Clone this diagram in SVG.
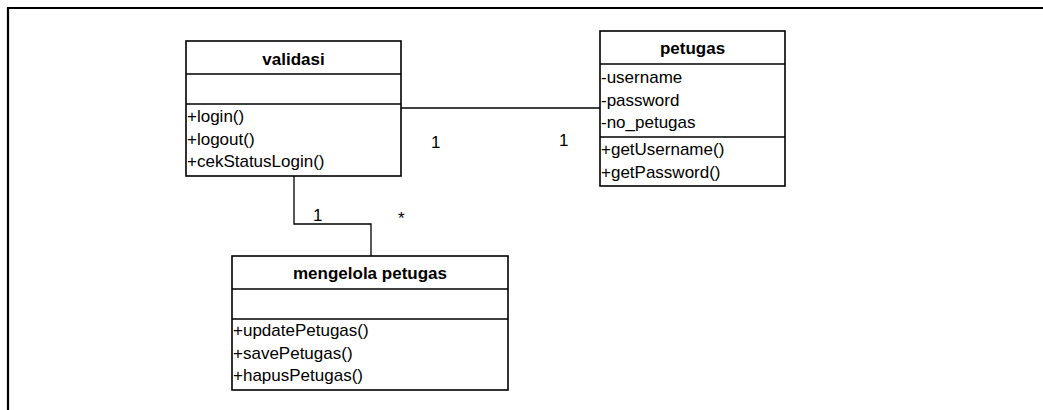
<svg xmlns="http://www.w3.org/2000/svg" width="1043" height="410" viewBox="0 0 1043 410">
<style>
.box{fill:#fff;stroke:#000;stroke-width:1.6}
.sep{stroke:#000;stroke-width:1.6}
.t{font-family:"Liberation Sans",Arial,sans-serif;font-size:17px;fill:#000}
.b{font-weight:bold;text-anchor:middle}
.c{fill:none;stroke:#000;stroke-width:1.3}
</style>
<rect width="1043" height="410" fill="#fff"/>
<path d="M8,410 V8 H1043" fill="none" stroke="#000" stroke-width="2.2"/>
<g id="connectors">
<path class="c" d="M401,108 H600"/>
<path class="c" d="M294,176 V224 H371 V256" stroke="#444"/>
<text class="t" x="431" y="148">1</text>
<text class="t" x="559" y="146">1</text>
<text class="t" x="313" y="221">1</text>
<text class="t" x="398" y="224">*</text>
</g>
<g id="validasi">
<rect class="box" x="186" y="41" width="215" height="135"/>
<line class="sep" x1="186" y1="74" x2="401" y2="74"/>
<line class="sep" x1="186" y1="104" x2="401" y2="104"/>
<text class="t b" x="293.5" y="65">validasi</text>
<text class="t" x="187" y="122">+login()</text>
<text class="t" x="187" y="144.5">+logout()</text>
<text class="t" x="187" y="167">+cekStatusLogin()</text>
</g>
<g id="petugas">
<rect class="box" x="600" y="31" width="185" height="155"/>
<line class="sep" x1="600" y1="64" x2="785" y2="64"/>
<line class="sep" x1="600" y1="137" x2="785" y2="137"/>
<text class="t b" x="692.5" y="54">petugas</text>
<text class="t" x="601" y="83">-username</text>
<text class="t" x="601" y="105.5">-password</text>
<text class="t" x="601" y="128">-no_petugas</text>
<text class="t" x="601" y="155">+getUsername()</text>
<text class="t" x="601" y="177.5">+getPassword()</text>
</g>
<g id="mengelola-petugas">
<rect class="box" x="232" y="256" width="276" height="134"/>
<line class="sep" x1="232" y1="289" x2="508" y2="289"/>
<line class="sep" x1="232" y1="319" x2="508" y2="319"/>
<text class="t b" x="370" y="279">mengelola petugas</text>
<text class="t" x="233" y="336">+updatePetugas()</text>
<text class="t" x="233" y="358.5">+savePetugas()</text>
<text class="t" x="233" y="381">+hapusPetugas()</text>
</g>
</svg>
